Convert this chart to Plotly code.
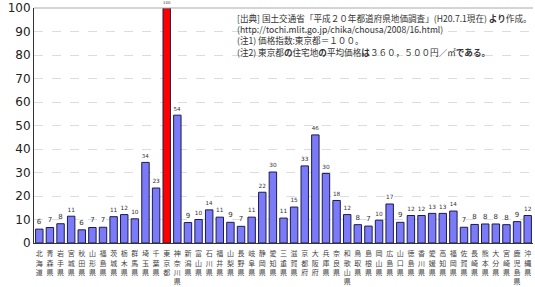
import plotly.graph_objects as go

prefectures = ["北海道","青森県","岩手県","宮城県","秋田県","山形県","福島県","茨城県","栃木県","群馬県",
               "埼玉県","千葉県","東京都","神奈川県","新潟県","富山県","石川県","福井県","山梨県","長野県",
               "岐阜県","静岡県","愛知県","三重県","滋賀県","京都府","大阪府","兵庫県","奈良県","和歌山県",
               "鳥取県","島根県","岡山県","広島県","山口県","徳島県","香川県","愛媛県","高知県","福岡県",
               "佐賀県","長崎県","熊本県","大分県","宮崎県","鹿児島県","沖縄県"]
price_index = [5.9, 6.6, 8.2, 11.4, 5.6, 6.6, 6.7, 11.2, 12.1, 10.3,
               34.3, 23.4, 100.0, 54.4, 8.7, 10.0, 14.1, 11.0, 8.8, 7.1,
               11.0, 21.6, 30.2, 10.6, 15.3, 32.8, 46.0, 29.6, 18.1, 12.1,
               7.8, 7.2, 9.7, 16.6, 8.8, 11.7, 11.7, 12.6, 12.6, 13.6,
               6.7, 7.9, 8.1, 8.1, 7.8, 9.1, 11.7]
y_ticks = [0, 10, 20, 30, 40, 50, 60, 70, 80, 90, 100]
highlight = "東京都"

note_lines = [
    "[出典] 国土交通省「平成２０年都道府県地価調査」(H20.7.1現在) <b>より</b>作成。",
    "(http://tochi.mlit.go.jp/chika/chousa/2008/16.html)",
    "(注1) 価格指数:東京都＝１００。",
    "(注2) 東京都<b>の</b>住宅地<b>の</b>平均価格<b>は</b>３６０，５００円／㎡<b>である。</b>",
]

fill = ["#ff0000" if p == highlight else "#7b7bfa" for p in prefectures]
tick_text = ["<br>".join(list(p)) for p in prefectures]

fig = go.Figure(go.Bar(
    x=prefectures, y=price_index,
    marker=dict(color=fill, line=dict(color="#1c1c4a", width=1)),
    text=[f"{v:.0f}" for v in price_index], textposition="outside",
    textfont=dict(size=7, color="#333333", family="DejaVu Sans"),
    cliponaxis=False,
))

fig.update_layout(
    width=535, height=287,
    margin=dict(l=33.5, r=1.5, t=7, b=38.7),
    paper_bgcolor="white", plot_bgcolor="white",
    bargap=0.3, showlegend=False,
    font=dict(family="Noto Sans CJK JP", color="#222222"),
    xaxis=dict(tickmode="array", tickvals=prefectures, ticktext=tick_text,
               tickangle=0, tickfont=dict(size=7, color="#444444", family="Noto Sans CJK JP"),
               ticklabelstandoff=4,
               showline=True, linecolor="#333333", linewidth=1, mirror=False,
               ticks="", showgrid=False),
    yaxis=dict(range=[0, 100], tickvals=y_ticks, showgrid=True,
               gridcolor="#dddddd", griddash="dash", gridwidth=1,
               showline=True, linecolor="#333333", linewidth=1,
               ticks="", tickfont=dict(size=12, color="#222222", family="DejaVu Sans"),
               zeroline=False),
    shapes=[dict(type="line", xref="paper", yref="paper", x0=0, x1=1, y0=1, y1=1,
                 line=dict(color="#aaaaaa", width=1))],
    annotations=[dict(xref="paper", yref="paper", x=0.403, y=0.99, xanchor="left", yanchor="top",
                      align="left", showarrow=False, text="<br>".join(note_lines),
                      font=dict(size=8.6, color="#333333", family="Noto Sans CJK JP"))],
)

fig.write_html("out.html")
